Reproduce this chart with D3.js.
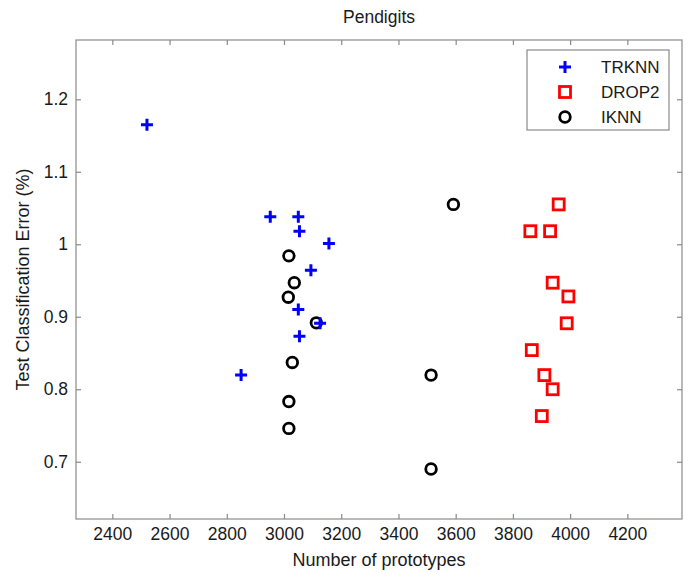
<!DOCTYPE html>
<html>
<head>
<meta charset="utf-8">
<script src="https://cdn.jsdelivr.net/npm/d3@7"></script>
<style>
  body { margin: 0; background: #fff; }
  text { font-family: "Liberation Sans", Arial, sans-serif; fill: #1a1a1a; }
</style>
</head>
<body>
<div id="chart"></div>
<script>
// values
const trknnX = [2521, 2952, 3050, 3054, 3157, 3094, 3050, 3126, 3054, 2850];
const trknnY = [1.165, 1.038, 1.038, 1.018, 1.001, 0.964, 0.910, 0.891, 0.873, 0.8195];

const drop2X = [3960, 3861, 3930, 3939, 3994, 3988, 3866, 3910, 3939, 3901];
const drop2Y = [1.055, 1.018, 1.018, 0.947, 0.928, 0.891, 0.854, 0.8195, 0.800, 0.763];

const iknnX = [3017, 3036, 3015, 3113, 3029, 3017, 3017, 3592, 3514, 3514];
const iknnY = [0.984, 0.947, 0.927, 0.8916, 0.837, 0.783, 0.746, 1.055, 0.8195, 0.690];

const xTicks = [2400, 2600, 2800, 3000, 3200, 3400, 3600, 3800, 4000, 4200];
const yTicks = [0.7, 0.8, 0.9, 1, 1.1, 1.2];

const seriesNames = ['TRKNN', 'DROP2', 'IKNN'];

const W = 692, H = 574;
const margin = { top: 40, right: 10, bottom: 55, left: 76 };
const width = W - margin.left - margin.right;
const height = H - margin.top - margin.bottom;

const x = d3.scaleLinear().domain([2273, 4391]).range([0, width]);
const y = d3.scaleLinear().domain([0.621, 1.2818]).range([height, 0]);

const axisColor = '#8a8a8a';
const fontSize = '17.5px';

const svg = d3.select('#chart').append('svg')
  .attr('width', W)
  .attr('height', H);

const plot = svg.append('g')
  .attr('transform', `translate(${margin.left},${margin.top})`);

// box
plot.append('rect')
  .attr('width', width)
  .attr('height', height)
  .attr('fill', 'none')
  .attr('stroke', axisColor)
  .attr('stroke-width', 1.2);

// inward ticks, all four sides (matlab style)
const tickLen = 5;
const styleAxis = g => {
  g.select('.domain').remove();
  g.selectAll('.tick line').attr('stroke', axisColor).attr('stroke-width', 1.2);
  g.selectAll('.tick text').style('font-size', fontSize).style('font-family', '"Liberation Sans", Arial, sans-serif');
};

plot.append('g')
  .attr('transform', `translate(0,${height})`)
  .call(d3.axisBottom(x).tickValues(xTicks).tickSize(-tickLen).tickPadding(9).tickFormat(d3.format('d')))
  .call(styleAxis);

plot.append('g')
  .call(d3.axisTop(x).tickValues(xTicks).tickSize(-tickLen).tickFormat(''))
  .call(styleAxis);

plot.append('g')
  .call(d3.axisLeft(y).tickValues(yTicks).tickSize(-tickLen).tickPadding(8).tickFormat(d => d3.format('')(d)))
  .call(styleAxis);

plot.append('g')
  .attr('transform', `translate(${width},0)`)
  .call(d3.axisRight(y).tickValues(yTicks).tickSize(-tickLen).tickFormat(''))
  .call(styleAxis);

// titles
svg.append('text')
  .attr('x', margin.left + width / 2)
  .attr('y', 23)
  .attr('text-anchor', 'middle')
  .style('font-size', '17.5px')
  .text('Pendigits');

svg.append('text')
  .attr('x', margin.left + width / 2)
  .attr('y', 566)
  .attr('text-anchor', 'middle')
  .style('font-size', '18px')
  .text('Number of prototypes');

svg.append('text')
  .attr('transform', `translate(29,${margin.top + height / 2}) rotate(-90)`)
  .attr('text-anchor', 'middle')
  .style('font-size', '18px')
  .text('Test Classification Error (%)');

// markers
const drawPlus = (g, cx, cy) => {
  g.append('path')
    .attr('d', `M${cx - 6},${cy}H${cx + 6}M${cx},${cy - 6}V${cy + 6}`)
    .attr('stroke', '#0000ff')
    .attr('stroke-width', 3)
    .attr('fill', 'none');
};
const drawSquare = (g, cx, cy) => {
  g.append('rect')
    .attr('x', cx - 5.5).attr('y', cy - 5.5)
    .attr('width', 11).attr('height', 11)
    .attr('fill', 'none')
    .attr('stroke', '#ff0000')
    .attr('stroke-width', 2.8);
};
const drawCircle = (g, cx, cy) => {
  g.append('circle')
    .attr('cx', cx).attr('cy', cy).attr('r', 5.3)
    .attr('fill', 'none')
    .attr('stroke', '#000')
    .attr('stroke-width', 2.8);
};

const marks = plot.append('g');
drop2X.forEach((d, i) => drawSquare(marks, x(d), y(drop2Y[i])));
iknnX.forEach((d, i) => drawCircle(marks, x(d), y(iknnY[i])));
trknnX.forEach((d, i) => drawPlus(marks, x(d), y(trknnY[i])));

// legend
const legend = svg.append('g').attr('transform', 'translate(527,50)');
legend.append('rect')
  .attr('width', 142)
  .attr('height', 80)
  .attr('fill', '#fff')
  .attr('stroke', axisColor)
  .attr('stroke-width', 1.2);

const drawers = [drawPlus, drawSquare, drawCircle];
seriesNames.forEach((name, i) => {
  const ly = 17 + i * 25;
  drawers[i](legend, 38, ly);
  legend.append('text')
    .attr('x', 74)
    .attr('y', ly + 6)
    .style('font-size', '17px')
    .text(name);
});
</script>
</body>
</html>
